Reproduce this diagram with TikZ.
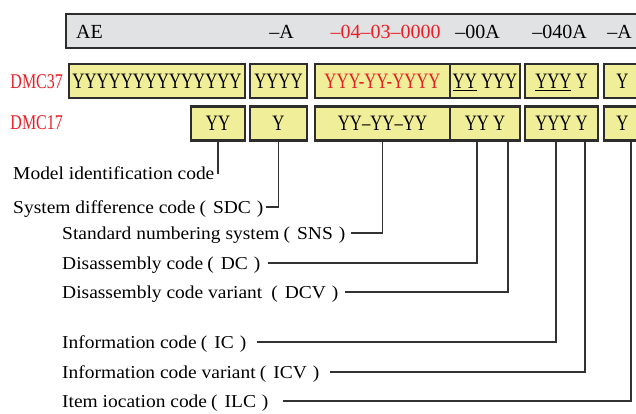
\documentclass[tikz,border=0pt]{standalone}
\usepackage{fontspec}
\setmainfont{Liberation Serif}
\newfontfamily\narrowserif[FakeStretch=0.76]{Liberation Serif}
\newfontfamily\wideserif[FakeStretch=1.07]{Liberation Serif}
\usepackage{xcolor}
\usepackage{tikz}
\usetikzlibrary{positioning}
\definecolor{codered}{RGB}{232,30,38}
\definecolor{cellfill}{RGB}{240,238,152}
\definecolor{headfill}{RGB}{225,226,228}
\definecolor{edgegray}{RGB}{45,45,45}
\newcommand{\abbr}[2][4pt]{\hspace{#1}(\hspace{7pt}#2\hspace{6pt})}

\tikzset{
  headbox/.style={rectangle, draw=edgegray, line width=2.4pt, fill=headfill, inner sep=0pt, minimum height=34pt},
  headtext/.style={anchor=base, inner sep=0pt, font=\fontsize{20}{22}\selectfont},
  cell/.style={rectangle, draw=edgegray, line width=2.4pt, fill=cellfill, inner sep=0pt, minimum height=34pt, text height=14.6pt, text depth=0pt, font=\narrowserif\fontsize{22}{24}\selectfont},
  rowtag/.style={anchor=east, inner sep=0pt, text=codered, text height=14pt, text depth=0pt, font=\narrowserif\fontsize{21}{23}\selectfont},
  codelabel/.style={anchor=west, inner xsep=2pt, inner ysep=0pt, text height=12pt, text depth=0pt, font=\wideserif\fontsize{18.2}{20}\selectfont},
  leader/.style={draw=black!80, line width=1.8pt},
}

\begin{document}
\begin{tikzpicture}[x=1pt, y=-1pt]
    \useasboundingbox (0,0) rectangle (636,413);

    % Example code
    \node[headbox, minimum width=634pt] (header) at (383,31) {};
    \node[headtext] (hae) at (89.5,38.5) {AE};
    \node[headtext] (hsdc) at (281.5,38.5) {--A};
    \node[headtext, text=codered] (hsns) at (385.5,38.5) {--04--03--0000};
    \node[headtext] (hdc) at (477.5,38.5) {--00A};
    \node[headtext] (hic) at (559.5,38.5) {--040A};
    \node[headtext] (hilc) at (619.5,38.5) {--A};

    % DMC37 row
    \node[rowtag] (dmc37) at (63,81) {DMC37};
    \node[cell, minimum width=176pt] (d37a) at (157,81) {YYYYYYYYYYYYYY};
    \node[cell, minimum width=57pt] (d37b) at (278.5,81) {YYYY};
    \node[cell, minimum width=135pt, text=codered] (d37c) at (382.5,81) {YYY-YY-YYYY};
    \node[cell, minimum width=70pt] (d37d) at (485,81) {\underline{YY} YYY};
    \node[cell, minimum width=73pt] (d37e) at (561.5,81) {\underline{YYY} Y};
    \node[cell, minimum width=37pt] (d37f) at (622.5,81) {Y};

    % DMC17 row
    \node[rowtag] (dmc17) at (63,122) {DMC17};
    \node[cell, minimum width=54pt] (d17a) at (218,123.5) {YY};
    \node[cell, minimum width=57pt] (d17b) at (278.5,123.5) {Y};
    \node[cell, minimum width=135pt] (d17c) at (382.5,123.5) {YY–YY–YY};
    \node[cell, minimum width=70pt] (d17d) at (485,123.5) {YY Y};
    \node[cell, minimum width=73pt] (d17e) at (561.5,123.5) {YYY Y};
    \node[cell, minimum width=37pt] (d17f) at (622.5,123.5) {Y};

    % Code names
    \node[codelabel] (lmic) at (11,173) {Model identification code};
    \node[codelabel] (lsdc) at (11,207) {System difference code\abbr{SDC}};
    \node[codelabel] (lsns) at (60,233) {Standard numbering system\abbr{SNS}};
    \node[codelabel] (ldc) at (60,263) {Disassembly code\abbr{DC}};
    \node[codelabel] (ldcv) at (60,292) {Disassembly code variant\abbr[9pt]{DCV}};
    \node[codelabel] (lic) at (60,342) {Information code\abbr{IC}};
    \node[codelabel] (licv) at (60,372) {Information code variant\abbr{ICV}};
    \node[codelabel] (lilc) at (60,401) {Item iocation code\abbr{ILC}};

    % Leaders
    \draw[leader] (d17a.south) |- (lmic.east);
    \draw[leader] (d17b.south) |- (lsdc.east);
    \draw[leader, shorten >=3pt] (d17c.south) |- (lsns.east);
    \draw[leader, shorten >=5pt] ([xshift=28pt]d17d.south west) |- (ldc.east);
    \draw[leader, shorten >=4pt] ([xshift=59pt]d17d.south west) |- (ldcv.east);
    \draw[leader, shorten >=9pt] ([xshift=32pt]d17e.south west) |- (lic.east);
    \draw[leader, shorten >=9pt] ([xshift=61pt]d17e.south west) |- (licv.east);
    \draw[leader, shorten >=12pt] ([xshift=28pt]d17f.south west) |- (lilc.east);
\end{tikzpicture}
\end{document}
